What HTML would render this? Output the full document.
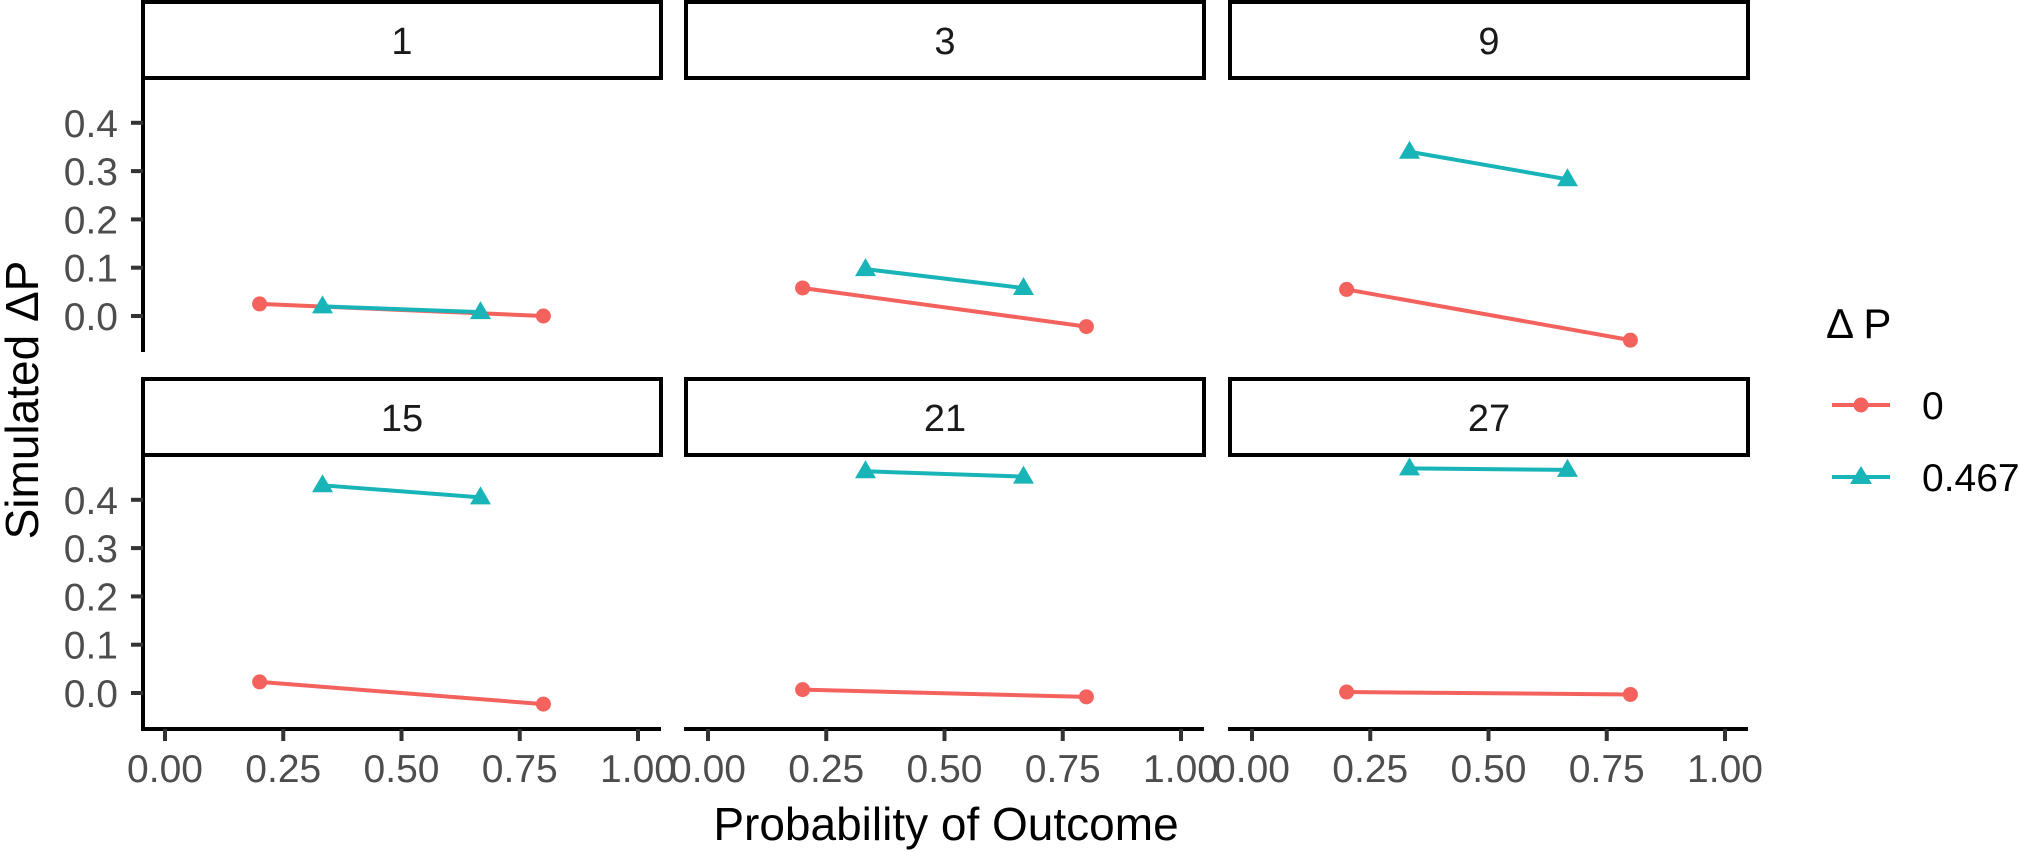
<!DOCTYPE html>
<html><head><meta charset="utf-8"><style>
html,body{margin:0;padding:0;background:#fff;}
svg{display:block;font-family:"Liberation Sans",Arial,sans-serif;}
</style></head><body>
<svg id="chart" width="2020" height="852" viewBox="0 0 2020 852"></svg>
<script>
const facets = ["1","3","9","15","21","27"];
const xCats = [0.2, 0.8];
const xCatsT = [0.333, 0.667];
const redSeries = [[0.025,0.0],[0.058,-0.022],[0.055,-0.05],[0.023,-0.023],[0.007,-0.008],[0.002,-0.003]];
const tealSeries = [[0.02,0.008],[0.097,0.058],[0.34,0.283],[0.43,0.405],[0.459,0.448],[0.465,0.462]];
const xTicks = [0,0.25,0.5,0.75,1];
const xTickLabels = ["0.00","0.25","0.50","0.75","1.00"];
const yTicks = [0,0.1,0.2,0.3,0.4];
const yTickLabels = ["0.0","0.1","0.2","0.3","0.4"];
const legendLabels = ["0","0.467"];

const NS="http://www.w3.org/2000/svg";
const svg=document.getElementById('chart');
function mk(tag,attrs,parent){const e=document.createElementNS(NS,tag);for(const k in attrs)e.setAttribute(k,attrs[k]);(parent||svg).appendChild(e);return e;}
const RED="#F4625E", TEAL="#18B4B8";
const panelLeft=[143,686,1230], panelW=518;
const rowStripTop=[2,379], stripH=76;
const rowY0=[316,693];
function xs(c,v){return panelLeft[c]+22+v*473;}
function ys(r,v){return rowY0[r]-v*483;}

facets.forEach((f,i)=>{
  const c=i%3, r=Math.floor(i/3);
  const g=mk('g',{});
  
  
  const st=mk('rect',{x:panelLeft[c],y:rowStripTop[r],width:panelW,height:stripH,fill:'#fff',stroke:'#000','stroke-width':4},g);
  
  
  const stt=mk('text',{x:panelLeft[c]+panelW/2,y:rowStripTop[r]+stripH/2+14,'text-anchor':'middle','font-size':38,fill:'#1a1a1a'},g);
  stt.textContent=f;
  
  
  const top=rowStripTop[r]+stripH, bottom=r===0?350:729;
  if(c===0){
    const ya=mk('line',{x1:panelLeft[c],y1:top,x2:panelLeft[c],y2:bottom+2,stroke:'#000','stroke-width':4},g);
    
    
    yTicks.forEach((t,k)=>{
      mk('line',{x1:panelLeft[c]-12,x2:panelLeft[c],y1:ys(r,t),y2:ys(r,t),stroke:'#333','stroke-width':4},g);
      const tl=mk('text',{x:118,y:ys(r,t)+14,'text-anchor':'end','font-size':39,fill:'#4d4d4d'},g);
      tl.textContent=yTickLabels[k];
      
      
    });
  }
  if(r===1){
    const xa=mk('line',{x1:panelLeft[c]-2,y1:729,x2:panelLeft[c]+panelW,y2:729,stroke:'#000','stroke-width':4},g);
    
    
    xTicks.forEach((t,k)=>{
      mk('line',{x1:xs(c,t),x2:xs(c,t),y1:729,y2:741,stroke:'#333','stroke-width':4},g);
      const tl=mk('text',{x:xs(c,t),y:782,'text-anchor':'middle','font-size':39,fill:'#4d4d4d'},g);
      tl.textContent=xTickLabels[k];
      
      
    });
  }
  const rl=mk('line',{x1:xs(c,xCats[0]),y1:ys(r,redSeries[i][0]),x2:xs(c,xCats[1]),y2:ys(r,redSeries[i][1]),stroke:RED,'stroke-width':4},g);
  
  
  const tl=mk('line',{x1:xs(c,xCatsT[0]),y1:ys(r,tealSeries[i][0]),x2:xs(c,xCatsT[1]),y2:ys(r,tealSeries[i][1]),stroke:TEAL,'stroke-width':4},g);
  
  
  for(let k=0;k<2;k++){
    const p=mk('circle',{cx:xs(c,xCats[k]),cy:ys(r,redSeries[i][k]),r:7.5,fill:RED},g);
    
    
    const x=xs(c,xCatsT[k]), y=ys(r,tealSeries[i][k]);
    const t=mk('polygon',{points:`${x},${y-11} ${x-10.5},${y+7} ${x+10.5},${y+7}`,fill:TEAL},g);
    
    
  }
});
const xt=mk('text',{x:946,y:840,'text-anchor':'middle','font-size':46,fill:'#000'});
xt.textContent='Probability of Outcome';


const yt=mk('text',{x:0,y:0,'text-anchor':'middle','font-size':46,fill:'#000',transform:'translate(38,400) rotate(-90)'});
yt.textContent='Simulated ΔP';


const lg=mk('g',{});


const lt=mk('text',{x:1826,y:338,'font-size':42,fill:'#000'},lg);
lt.textContent='Δ P';


const ly=[405,477];
legendLabels.forEach((lab,k)=>{
  const e=mk('g',{},lg);
  
  
  const col=k===0?RED:TEAL;
  mk('line',{x1:1832,x2:1890,y1:ly[k],y2:ly[k],stroke:col,'stroke-width':4},e);
  if(k===0) mk('circle',{cx:1861,cy:ly[k],r:7.5,fill:col},e);
  else mk('polygon',{points:`1861,${ly[k]-11} 1850,${ly[k]+7} 1872,${ly[k]+7}`,fill:col},e);
  const t=mk('text',{x:1922,y:ly[k]+14,'font-size':39,fill:'#000'},e);
  t.textContent=lab;
});
</script>
</body></html>
